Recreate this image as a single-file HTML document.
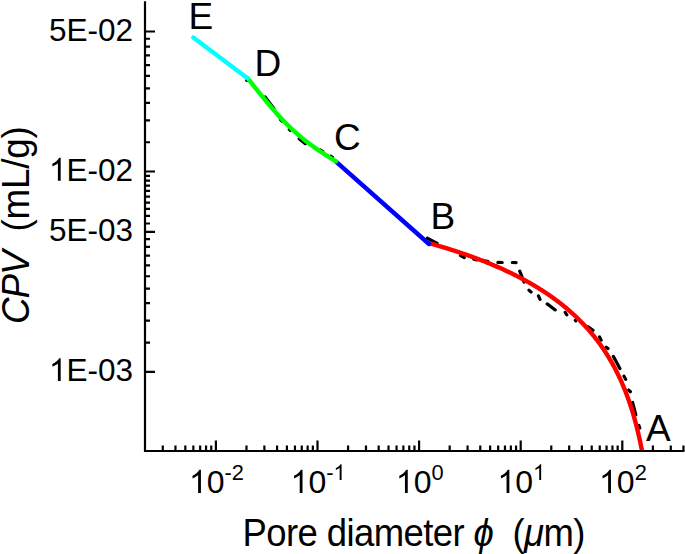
<!DOCTYPE html>
<html><head><meta charset="utf-8"><style>
html,body{margin:0;padding:0;background:#fff;}
svg{display:block;font-family:"Liberation Sans",sans-serif;}
</style></head><body>
<svg width="685" height="554" viewBox="0 0 685 554"><defs><clipPath id="pa"><rect x="0" y="0" width="685" height="451"/></clipPath></defs>
<g clip-path="url(#pa)"><path d="M427.32 238.21L437.18 243.49 M460.53 255.69L464.27 257.61 M473.76 259.15L477.04 259.95 M483.48 260.72L487.82 261.38 M497.90 262.42L502.20 262.48 M512.30 262.52L516.10 262.58 M519.75 271.20L524.05 282.10 M528.96 290.25L531.04 291.95 M538.44 295.86L540.06 299.34 M547.20 303.89L555.30 309.91 M565.22 312.46L566.78 314.84 M575.34 320.28L575.86 320.82 M588.01 326.68L592.99 330.32 M599.55 336.85L601.15 340.15 M606.21 347.29L607.99 348.61 M613.31 356.32L619.89 368.58 M624.00 376.13L625.70 379.37 M628.67 390.05L630.43 391.75 M632.58 402.45L635.82 414.85 M638.82 425.41L639.78 427.99 M265.11 96.99L273.69 108.21 M280.45 119.36L281.75 120.94 M289.26 129.36L290.34 130.44 M299.17 138.74L305.33 143.66 M320.55 150.03L322.75 151.47 M330.66 156.12L332.44 157.28 M246.70 80.35L246.77 80.42" fill="none" stroke="#000" stroke-width="3.2" stroke-linecap="round"/>
<path d="M429.00 243.13 L429.56 243.29 L430.12 243.45 L430.68 243.60 L431.24 243.76 L431.80 243.92 L432.37 244.08 L432.93 244.24 L433.49 244.39 L434.05 244.55 L434.61 244.72 L435.17 244.88 L435.73 245.04 L436.29 245.20 L436.85 245.36 L437.41 245.53 L437.97 245.69 L438.53 245.85 L439.10 246.02 L439.66 246.18 L440.22 246.35 L440.78 246.52 L441.34 246.68 L441.90 246.85 L442.46 247.02 L443.02 247.19 L443.58 247.36 L444.14 247.53 L444.70 247.70 L445.26 247.87 L445.83 248.04 L446.39 248.21 L446.95 248.38 L447.51 248.56 L448.07 248.73 L448.63 248.91 L449.19 249.08 L449.75 249.26 L450.31 249.43 L450.87 249.61 L451.43 249.79 L451.99 249.97 L452.56 250.15 L453.12 250.32 L453.68 250.50 L454.24 250.69 L454.80 250.87 L455.36 251.05 L455.92 251.23 L456.48 251.42 L457.04 251.60 L457.60 251.78 L458.16 251.97 L458.73 252.16 L459.29 252.34 L459.85 252.53 L460.41 252.72 L460.97 252.91 L461.53 253.10 L462.09 253.29 L462.65 253.48 L463.21 253.67 L463.77 253.86 L464.33 254.05 L464.89 254.25 L465.46 254.44 L466.02 254.64 L466.58 254.83 L467.14 255.03 L467.70 255.23 L468.26 255.43 L468.82 255.62 L469.38 255.82 L469.94 256.02 L470.50 256.22 L471.06 256.43 L471.62 256.63 L472.19 256.83 L472.75 257.04 L473.31 257.24 L473.87 257.45 L474.43 257.65 L474.99 257.86 L475.55 258.07 L476.11 258.28 L476.67 258.49 L477.23 258.70 L477.79 258.91 L478.35 259.12 L478.92 259.33 L479.48 259.55 L480.04 259.76 L480.60 259.98 L481.16 260.20 L481.72 260.41 L482.28 260.63 L482.84 260.85 L483.40 261.07 L483.96 261.29 L484.52 261.51 L485.09 261.73 L485.65 261.96 L486.21 262.18 L486.77 262.41 L487.33 262.63 L487.89 262.86 L488.45 263.09 L489.01 263.32 L489.57 263.55 L490.13 263.78 L490.69 264.01 L491.25 264.24 L491.82 264.48 L492.38 264.71 L492.94 264.95 L493.50 265.18 L494.06 265.42 L494.62 265.66 L495.18 265.90 L495.74 266.14 L496.30 266.38 L496.86 266.62 L497.42 266.87 L497.98 267.11 L498.55 267.36 L499.11 267.60 L499.67 267.85 L500.23 268.10 L500.79 268.35 L501.35 268.60 L501.91 268.86 L502.47 269.11 L503.03 269.36 L503.59 269.62 L504.15 269.88 L504.72 270.13 L505.28 270.39 L505.84 270.65 L506.40 270.91 L506.96 271.18 L507.52 271.44 L508.08 271.71 L508.64 271.97 L509.20 272.24 L509.76 272.51 L510.32 272.78 L510.88 273.05 L511.45 273.32 L512.01 273.59 L512.57 273.87 L513.13 274.14 L513.69 274.42 L514.25 274.70 L514.81 274.98 L515.37 275.26 L515.93 275.54 L516.49 275.83 L517.05 276.11 L517.61 276.40 L518.18 276.69 L518.74 276.98 L519.30 277.27 L519.86 277.56 L520.42 277.85 L520.98 278.15 L521.54 278.45 L522.10 278.74 L522.66 279.04 L523.22 279.34 L523.78 279.65 L524.34 279.95 L524.91 280.26 L525.47 280.56 L526.03 280.87 L526.59 281.18 L527.15 281.49 L527.71 281.80 L528.27 282.12 L528.83 282.44 L529.39 282.75 L529.95 283.07 L530.51 283.39 L531.08 283.72 L531.64 284.04 L532.20 284.37 L532.76 284.70 L533.32 285.03 L533.88 285.36 L534.44 285.69 L535.00 286.03 L535.56 286.36 L536.12 286.70 L536.68 287.04 L537.24 287.38 L537.81 287.73 L538.37 288.07 L538.93 288.42 L539.49 288.77 L540.05 289.12 L540.61 289.48 L541.17 289.83 L541.73 290.19 L542.29 290.55 L542.85 290.91 L543.41 291.27 L543.97 291.64 L544.54 292.01 L545.10 292.38 L545.66 292.75 L546.22 293.12 L546.78 293.50 L547.34 293.88 L547.90 294.26 L548.46 294.64 L549.02 295.03 L549.58 295.41 L550.14 295.80 L550.70 296.20 L551.27 296.59 L551.83 296.99 L552.39 297.39 L552.95 297.79 L553.51 298.19 L554.07 298.60 L554.63 299.01 L555.19 299.42 L555.75 299.83 L556.31 300.25 L556.87 300.67 L557.44 301.09 L558.00 301.52 L558.56 301.95 L559.12 302.38 L559.68 302.81 L560.24 303.24 L560.80 303.68 L561.36 304.13 L561.92 304.57 L562.48 305.02 L563.04 305.47 L563.60 305.92 L564.17 306.38 L564.73 306.84 L565.29 307.30 L565.85 307.77 L566.41 308.23 L566.97 308.71 L567.53 309.18 L568.09 309.66 L568.65 310.14 L569.21 310.63 L569.77 311.12 L570.33 311.61 L570.90 312.11 L571.46 312.61 L572.02 313.11 L572.58 313.62 L573.14 314.13 L573.70 314.64 L574.26 315.16 L574.82 315.68 L575.38 316.21 L575.94 316.74 L576.50 317.27 L577.06 317.81 L577.63 318.35 L578.19 318.90 L578.75 319.45 L579.31 320.00 L579.87 320.56 L580.43 321.13 L580.99 321.70 L581.55 322.27 L582.11 322.85 L582.67 323.43 L583.23 324.02 L583.80 324.61 L584.36 325.21 L584.92 325.81 L585.48 326.41 L586.04 327.03 L586.60 327.64 L587.16 328.27 L587.72 328.89 L588.28 329.53 L588.84 330.17 L589.40 330.81 L589.96 331.46 L590.53 332.12 L591.09 332.78 L591.65 333.45 L592.21 334.13 L592.77 334.81 L593.33 335.50 L593.89 336.19 L594.45 336.89 L595.01 337.60 L595.57 338.31 L596.13 339.03 L596.69 339.76 L597.26 340.50 L597.82 341.24 L598.38 341.99 L598.94 342.75 L599.50 343.51 L600.06 344.29 L600.62 345.07 L601.18 345.86 L601.74 346.66 L602.30 347.46 L602.86 348.28 L603.43 349.11 L603.99 349.94 L604.55 350.78 L605.11 351.63 L605.67 352.50 L606.23 353.37 L606.79 354.25 L607.35 355.15 L607.91 356.05 L608.47 356.96 L609.03 357.89 L609.59 358.82 L610.16 359.77 L610.72 360.73 L611.28 361.71 L611.84 362.69 L612.40 363.69 L612.96 364.70 L613.52 365.72 L614.08 366.76 L614.64 367.81 L615.20 368.88 L615.76 369.96 L616.32 371.05 L616.89 372.17 L617.45 373.29 L618.01 374.44 L618.57 375.60 L619.13 376.78 L619.69 377.98 L620.25 379.19 L620.81 380.43 L621.37 381.68 L621.93 382.95 L622.49 384.25 L623.05 385.57 L623.62 386.90 L624.18 388.27 L624.74 389.65 L625.30 391.06 L625.86 392.50 L626.42 393.96 L626.98 395.45 L627.54 396.96 L628.10 398.51 L628.66 400.08 L629.22 401.69 L629.79 403.33 L630.35 405.01 L630.91 406.72 L631.47 408.46 L632.03 410.25 L632.59 412.07 L633.15 413.94 L633.71 415.85 L634.27 417.81 L634.83 419.81 L635.39 421.87 L635.95 423.98 L636.52 426.14 L637.08 428.36 L637.64 430.65 L638.20 432.99 L638.76 435.41 L639.32 437.90 L639.88 440.47 L640.44 443.12 L641.00 445.86 L641.56 448.68 L642.12 451.61 L642.68 454.65" fill="none" stroke="#ff0000" stroke-width="4.4" stroke-linecap="round" stroke-linejoin="round"/>
<path d="M336.00 161.65 L429.00 244.01" fill="none" stroke="#0000ff" stroke-width="4.4" stroke-linecap="round" stroke-linejoin="round"/>
<path d="M247.50 77.98 L250.03 81.17 L252.56 84.35 L255.09 87.52 L257.61 90.68 L260.14 93.81 L262.67 96.91 L265.20 99.98 L267.73 103.01 L270.26 106.00 L272.79 108.95 L275.31 111.84 L277.84 114.67 L280.37 117.44 L282.90 120.14 L285.43 122.77 L287.96 125.32 L290.49 127.79 L293.01 130.17 L295.54 132.47 L298.07 134.68 L300.60 136.83 L303.13 138.90 L305.66 140.90 L308.19 142.84 L310.71 144.72 L313.24 146.55 L315.77 148.34 L318.30 150.08 L320.83 151.78 L323.36 153.44 L325.89 155.08 L328.41 156.69 L330.94 158.28 L333.47 159.86 L336.00 161.42" fill="none" stroke="#00ff00" stroke-width="4.4" stroke-linecap="round" stroke-linejoin="round"/>
<path d="M193.30 37.56 L247.50 78.35" fill="none" stroke="#00ffff" stroke-width="4.4" stroke-linecap="round" stroke-linejoin="round"/></g>
<path d="M145.0 1.3V451.0H684.5" fill="none" stroke="#000" stroke-width="2.2" stroke-linejoin="miter" stroke-linecap="butt"/>
<path d="M162.78 451.0v-5.5 M175.47 451.0v-5.5 M185.32 451.0v-5.5 M193.36 451.0v-5.5 M200.16 451.0v-5.5 M206.05 451.0v-5.5 M211.25 451.0v-5.5 M215.90 451.0v-10.5 M246.48 451.0v-5.5 M264.38 451.0v-5.5 M277.07 451.0v-5.5 M286.92 451.0v-5.5 M294.96 451.0v-5.5 M301.76 451.0v-5.5 M307.65 451.0v-5.5 M312.85 451.0v-5.5 M317.50 451.0v-10.5 M348.08 451.0v-5.5 M365.98 451.0v-5.5 M378.67 451.0v-5.5 M388.52 451.0v-5.5 M396.56 451.0v-5.5 M403.36 451.0v-5.5 M409.25 451.0v-5.5 M414.45 451.0v-5.5 M419.10 451.0v-10.5 M449.68 451.0v-5.5 M467.58 451.0v-5.5 M480.27 451.0v-5.5 M490.12 451.0v-5.5 M498.16 451.0v-5.5 M504.96 451.0v-5.5 M510.85 451.0v-5.5 M516.05 451.0v-5.5 M520.70 451.0v-10.5 M551.28 451.0v-5.5 M569.18 451.0v-5.5 M581.87 451.0v-5.5 M591.72 451.0v-5.5 M599.76 451.0v-5.5 M606.56 451.0v-5.5 M612.45 451.0v-5.5 M617.65 451.0v-5.5 M622.30 451.0v-10.5 M652.88 451.0v-5.5 M670.78 451.0v-5.5 M683.47 451.0v-5.5 M145.0 371.80h10 M145.0 231.80h10 M145.0 171.50h10 M145.0 31.50h10 M145.0 342.53h5 M145.0 320.67h5 M145.0 303.21h5 M145.0 288.68h5 M145.0 276.23h5 M145.0 265.34h5 M145.0 255.67h5 M145.0 246.96h5 M145.0 239.05h5 M145.0 223.51h5 M145.0 215.94h5 M145.0 208.97h5 M145.0 202.53h5 M145.0 196.53h5 M145.0 190.91h5 M145.0 185.64h5 M145.0 180.67h5 M145.0 175.96h5 M145.0 142.23h5 M145.0 120.37h5 M145.0 102.91h5 M145.0 88.38h5 M145.0 75.93h5 M145.0 65.04h5 M145.0 55.37h5 M145.0 46.66h5 M145.0 38.75h5" fill="none" stroke="#000" stroke-width="2.2"/>
<text x="48.94" y="40.80" font-size="31.5">5E-02</text>
<path d="M763 0H583V1147Q518 1085 412.5 1023T223 930V1104Q381 1178 499.5 1284T667 1491H763V0Z" transform="translate(48.94 180.80) scale(0.01538 -0.01538)"/>
<text x="66.46" y="180.80" font-size="31.5">E-02</text>
<text x="48.94" y="241.10" font-size="31.5">5E-03</text>
<path d="M763 0H583V1147Q518 1085 412.5 1023T223 930V1104Q381 1178 499.5 1284T667 1491H763V0Z" transform="translate(48.94 381.10) scale(0.01538 -0.01538)"/>
<text x="66.46" y="381.10" font-size="31.5">E-03</text>
<path d="M763 0H583V1147Q518 1085 412.5 1023T223 930V1104Q381 1178 499.5 1284T667 1491H763V0Z" transform="translate(189.01 493.00) scale(0.01562 -0.01562)"/>
<text x="206.81" y="493.00" font-size="32">0</text>
<text x="224.61" y="480.00" font-size="21.8">-2</text>
<path d="M763 0H583V1147Q518 1085 412.5 1023T223 930V1104Q381 1178 499.5 1284T667 1491H763V0Z" transform="translate(290.61 493.00) scale(0.01562 -0.01562)"/>
<text x="308.41" y="493.00" font-size="32">0</text>
<text x="326.21" y="480.00" font-size="21.8">-</text>
<path d="M763 0H583V1147Q518 1085 412.5 1023T223 930V1104Q381 1178 499.5 1284T667 1491H763V0Z" transform="translate(333.46 480.00) scale(0.01064 -0.01064)"/>
<path d="M763 0H583V1147Q518 1085 412.5 1023T223 930V1104Q381 1178 499.5 1284T667 1491H763V0Z" transform="translate(395.84 493.00) scale(0.01562 -0.01562)"/>
<text x="413.64" y="493.00" font-size="32">0</text>
<text x="431.43" y="480.00" font-size="21.8">0</text>
<path d="M763 0H583V1147Q518 1085 412.5 1023T223 930V1104Q381 1178 499.5 1284T667 1491H763V0Z" transform="translate(497.44 493.00) scale(0.01562 -0.01562)"/>
<text x="515.24" y="493.00" font-size="32">0</text>
<path d="M763 0H583V1147Q518 1085 412.5 1023T223 930V1104Q381 1178 499.5 1284T667 1491H763V0Z" transform="translate(533.03 480.00) scale(0.01064 -0.01064)"/>
<path d="M763 0H583V1147Q518 1085 412.5 1023T223 930V1104Q381 1178 499.5 1284T667 1491H763V0Z" transform="translate(599.04 493.00) scale(0.01562 -0.01562)"/>
<text x="616.84" y="493.00" font-size="32">0</text>
<text x="634.63" y="480.00" font-size="21.8">2</text>
<text transform="translate(242.5 546) scale(0.96 1)" font-size="38" letter-spacing="-0.6" xml:space="preserve">Pore diameter <tspan font-style="italic">&#981;</tspan>  (<tspan font-style="italic">&#956;</tspan>m)</text>
<text transform="translate(28.8 324) rotate(-90) scale(0.97 1)" font-size="38" letter-spacing="-0.25" xml:space="preserve"><tspan font-style="italic" letter-spacing="-1.1">CPV</tspan>  (mL/g)</text>
<text x="188.5" y="29.1" font-size="37">E</text>
<text x="254.5" y="76.0" font-size="37">D</text>
<text x="334" y="149.6" font-size="37">C</text>
<text x="430.5" y="228.8" font-size="37">B</text>
<text x="646" y="441.1" font-size="37">A</text>
</svg></body></html>
